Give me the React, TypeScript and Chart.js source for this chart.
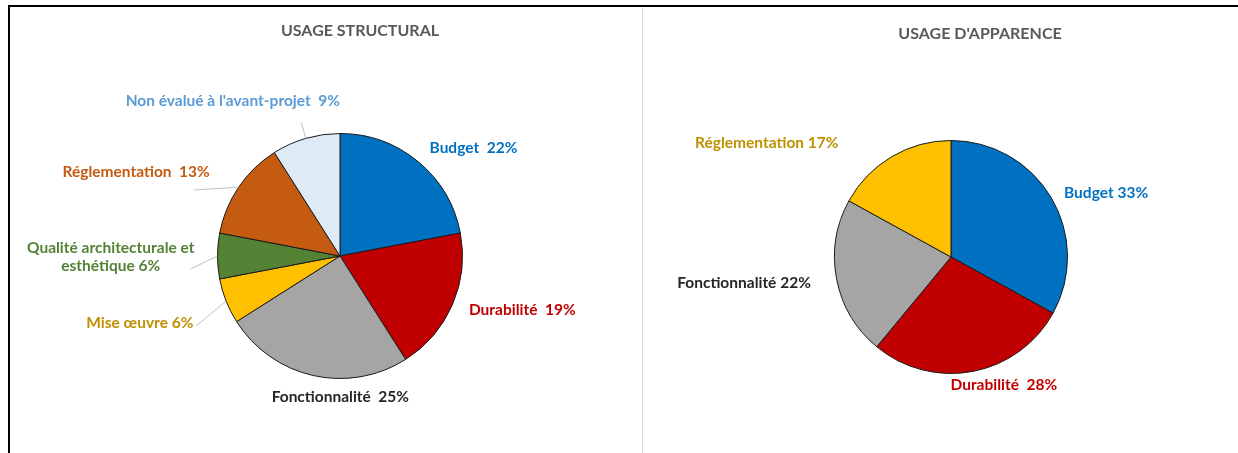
import React, { useEffect, useRef } from "react";
import { Chart, registerables } from "chart.js";

Chart.register(...registerables);

// ---------- DATA ----------
const structTitle = "USAGE STRUCTURAL";
const structNames = [
  "Budget",
  "Durabilité",
  "Fonctionnalité",
  "Mise œuvre",
  "Qualité architecturale et\nesthétique",
  "Réglementation",
  "Non évalué à l'avant-projet",
];
const structValues = [22, 19, 25, 6, 6, 13, 9];

const appTitle = "USAGE D'APPARENCE";
const appNames = ["Budget", "Durabilité", "Fonctionnalité", "Réglementation"];
const appValues = [33, 28, 22, 17];

// ---------- STYLES ----------
const structFill = ["#0070C0", "#C00000", "#A5A5A5", "#FFC000", "#548235", "#C55A11", "#DEEBF7"];
const structTextColor = ["#0070C0", "#C00000", "#262626", "#BF9000", "#548235", "#C55A11", "#5B9BD5"];
const structSep = ["  ", "  ", "  ", " ", " ", "  ", "  "];
const structNudge = [[0, 0], [0, -2], [31, 4], [-16, 15], [-5, 1], [-14, -5], [-68, -20]];
const structLeader = ["", "", "", "side", "block", "under", "radial"];

const appFill = ["#0070C0", "#C00000", "#A5A5A5", "#FFC000"];
const appTextColor = ["#0070C0", "#C00000", "#262626", "#BF9000"];
const appSep = [" ", "  ", " ", " "];
const appNudge = [[-1, 3], [28, -2], [-10, 1], [-45, 0]];
const appLeader = ["", "", "", ""];

const LABEL_FONT = "bold 15.5px Lato, 'Open Sans', sans-serif";
const TITLE_FONT = "bold 16px Lato, 'Open Sans', sans-serif";

const pieLabelPlugin = {
  id: "pieLabels",
  afterDatasetsDraw(chart: any, _args: any, opts: any) {
    const ctx = chart.ctx as CanvasRenderingContext2D;
    const meta = chart.getDatasetMeta(0);
    const values = chart.data.datasets[0].data as number[];
    ctx.save();
    ctx.font = TITLE_FONT;
    ctx.fillStyle = "#595959";
    ctx.textAlign = "center";
    ctx.textBaseline = "middle";
    ctx.fillText(opts.title, chart.width / 2 + opts.titleDx, opts.titleY);

    ctx.font = LABEL_FONT;
    const lh = 18;
    meta.data.forEach((arc: any, i: number) => {
      const p = arc.getProps(["x", "y", "startAngle", "endAngle", "outerRadius"], true);
      const mid = (p.startAngle + p.endAngle) / 2;
      const dx = Math.cos(mid);
      const dy = Math.sin(mid);
      const d = p.outerRadius + opts.gap;
      const ax = p.x + dx * d + opts.nudge[i][0];
      const ay = p.y + dy * d + opts.nudge[i][1];
      const align = dx > 0.35 ? "left" : dx < -0.35 ? "right" : "center";
      const lines = (opts.names[i] as string).split("\n");
      lines[lines.length - 1] = lines[lines.length - 1] + opts.sep[i] + values[i] + "%";
      const widths = lines.map((l) => ctx.measureText(l).width);
      const bw = Math.max(...widths);
      const left = align === "left" ? ax : align === "right" ? ax - bw : ax - bw / 2;
      const top = ay - ((lines.length - 1) * lh) / 2;
      ctx.fillStyle = opts.colors[i];
      ctx.textAlign = "center";
      lines.forEach((l, k) => ctx.fillText(l, left + bw / 2, top + k * lh));

      const kind = opts.leaders[i];
      if (kind) {
        const ex = p.x + dx * p.outerRadius;
        const ey = p.y + dy * p.outerRadius;
        let qx: number, qy: number;
        if (kind === "radial") {
          qx = p.x + dx * (p.outerRadius + 16);
          qy = p.y + dy * (p.outerRadius + 16);
        } else if (kind === "under") {
          qx = left + bw - 16;
          qy = top + 18;
        } else if (kind === "block") {
          qx = left + bw - 4;
          qy = top + (lines.length - 1) * lh + 3;
        } else {
          const lastW = widths[widths.length - 1];
          qx = left + bw / 2 + lastW / 2 + 3;
          qy = top + (lines.length - 1) * lh + 3;
        }
        ctx.strokeStyle = "#BFBFBF";
        ctx.lineWidth = 1;
        ctx.beginPath();
        ctx.moveTo(ex, ey);
        ctx.lineTo(qx, qy);
        ctx.stroke();
      }
    });
    ctx.restore();
  },
};

function PieChart(props: {
  w: number;
  h: number;
  values: number[];
  names: string[];
  fill: string[];
  colors: string[];
  sep: string[];
  nudge: number[][];
  leaders: string[];
  title: string;
  titleDx: number;
  titleY: number;
  padding: { left: number; right: number; top: number; bottom: number };
  gap: number;
}) {
  const ref = useRef<HTMLCanvasElement>(null);
  useEffect(() => {
    if (!ref.current) return;
    const chart = new Chart(ref.current, {
      type: "pie",
      data: {
        labels: props.names,
        datasets: [
          {
            data: props.values,
            backgroundColor: props.fill,
            borderColor: "#1A1A1A",
            borderWidth: 1,
          },
        ],
      },
      options: {
        animation: false,
        responsive: false,
        maintainAspectRatio: false,
        devicePixelRatio: 1,
        layout: { padding: props.padding },
        plugins: {
          legend: { display: false },
          tooltip: { enabled: false },
          title: { display: false },
          pieLabels: {
            title: props.title,
            titleDx: props.titleDx,
            titleY: props.titleY,
            names: props.names,
            colors: props.colors,
            sep: props.sep,
            nudge: props.nudge,
            leaders: props.leaders,
            gap: props.gap,
          },
        } as any,
      },
      plugins: [pieLabelPlugin],
    });
    return () => chart.destroy();
  }, []);
  return (
    <canvas
      ref={ref}
      width={props.w}
      height={props.h}
      style={{ width: props.w, height: props.h, display: "block" }}
    />
  );
}

export default function App() {
  return (
    <div
      style={{
        position: "absolute",
        left: 0,
        top: 0,
        width: 1238,
        height: 453,
        background: "#FFFFFF",
        overflow: "hidden",
      }}
    >
      <div style={{ position: "absolute", left: 8, top: 5, width: 1230, height: 2, background: "#000" }} />
      <div style={{ position: "absolute", left: 8, top: 5, width: 2, height: 448, background: "#000" }} />
      <div style={{ position: "absolute", left: 642, top: 8, width: 1, height: 445, background: "#D9D9D9" }} />
      <div style={{ position: "absolute", left: 10, top: 7, width: 632, height: 446 }}>
        <PieChart
          w={632}
          h={446}
          values={structValues}
          names={structNames}
          fill={structFill}
          colors={structTextColor}
          sep={structSep}
          nudge={structNudge}
          leaders={structLeader}
          title={structTitle}
          titleDx={34}
          titleY={24}
          padding={{ left: 207, right: 179, top: 126, bottom: 74 }}
          gap={18}
        />
      </div>
      <div style={{ position: "absolute", left: 644, top: 7, width: 594, height: 446 }}>
        <PieChart
          w={594}
          h={446}
          values={appValues}
          names={appNames}
          fill={appFill}
          colors={appTextColor}
          sep={appSep}
          nudge={appNudge}
          leaders={appLeader}
          title={appTitle}
          titleDx={39}
          titleY={27}
          padding={{ left: 190, right: 170, top: 133, bottom: 79 }}
          gap={16}
        />
      </div>
    </div>
  );
}
